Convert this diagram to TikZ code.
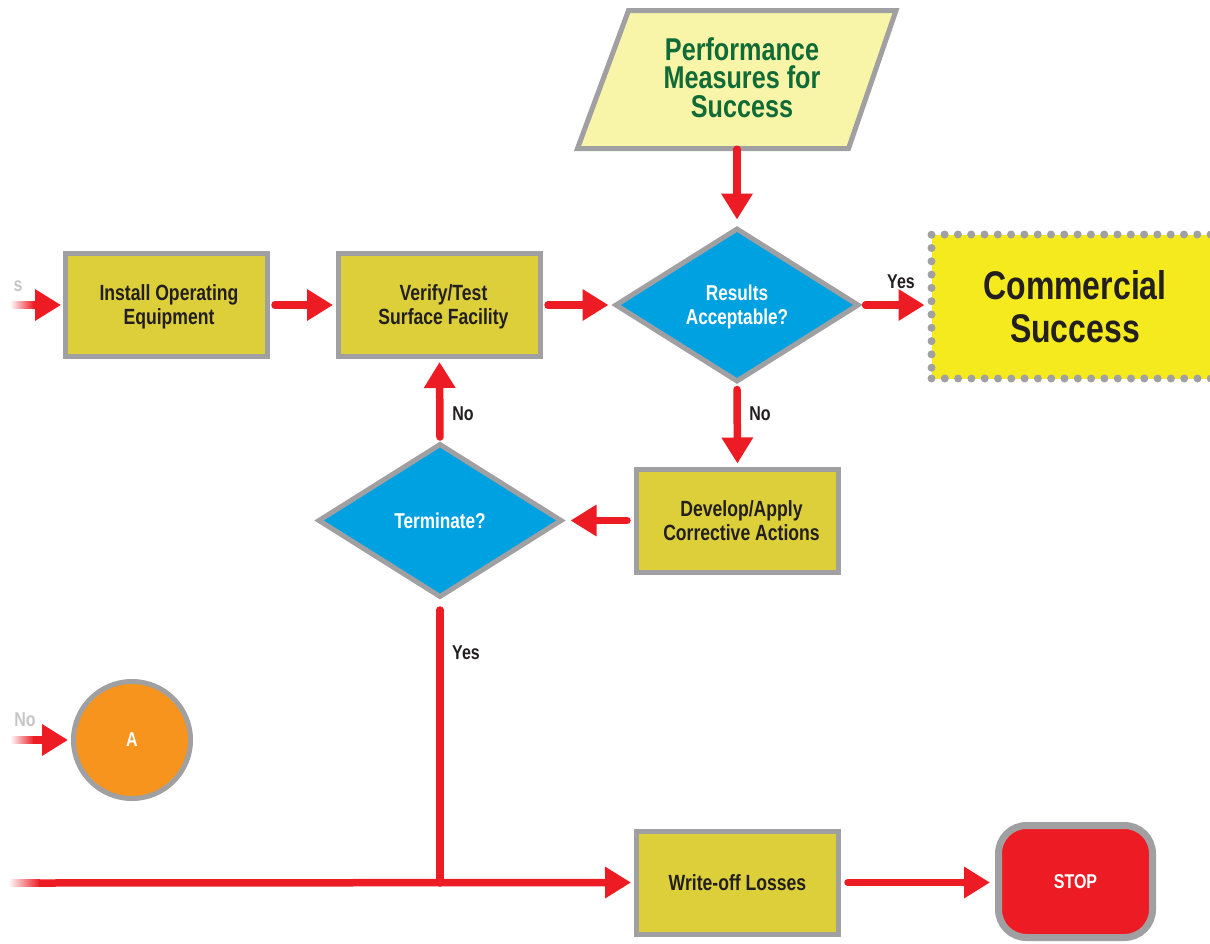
\documentclass[tikz,border=0pt]{standalone}
\usepackage{fontspec}
\setmainfont{Liberation Sans}[FakeStretch=0.8]
\usetikzlibrary{arrows.meta,shapes.geometric}
\definecolor{myred}{RGB}{237,28,36}
\definecolor{bgray}{RGB}{160,160,162}
\definecolor{boxfill}{RGB}{220,207,58}
\definecolor{dblue}{RGB}{0,161,224}
\definecolor{pfill}{RGB}{248,245,168}
\definecolor{pgreen}{RGB}{16,107,55}
\definecolor{cyellow}{RGB}{244,234,30}
\definecolor{aorange}{RGB}{247,148,29}
\definecolor{txt}{RGB}{35,31,32}
\newcommand\bxfont{\bfseries\fontsize{22}{24}\selectfont}
\newcommand\dfont{\bfseries\fontsize{21.5}{24}\selectfont}
\newcommand\sfont{\bfseries\fontsize{20}{24}\selectfont}
\tikzset{
  stepbox/.style={draw=bgray, line width=5pt, fill=boxfill, minimum width=202pt, minimum height=103pt, align=center, font=\bxfont, text=txt, inner sep=0pt, text depth=0pt},
  decide/.style={diamond, draw=bgray, line width=5pt, fill=dblue, minimum width=244pt, minimum height=154pt, aspect=1.6, align=center, font=\dfont, text=white, inner sep=0pt, text depth=0pt},
  arr/.style={draw=myred, line width=7.5pt, line cap=round, -{Triangle[length=26pt,width=30pt]}},
  farr/.style={draw=myred, line width=7.5pt, line cap=butt, -{Triangle[length=26pt,width=30pt]}},
  lbl/.style={font=\sfont, text=txt, inner sep=0pt},
  faded/.style={font=\sfont, text=gray!45, inner sep=0pt},
}
\begin{document}
\begin{tikzpicture}[x=1pt,y=-1pt]
\clip (0,0) rectangle (1210,943);
\fill[white] (0,0) rectangle (1210,943);

% parallelogram
\draw[draw=bgray, line width=5pt, fill=pfill, line join=miter] (628.5,10.5) -- (896,10.5) -- (848.5,148.5) -- (577.5,148.5) -- cycle;
\node[font=\bfseries\fontsize{31.5}{28.5}\selectfont, text=pgreen, align=center, minimum height=141pt, inner sep=0pt] (perf) at (742,77.5) {Performance\\Measures for\\Success};

% nodes
\node[stepbox] (install) at (166.5,305) {\hspace*{5pt}Install Operating\\\hspace*{5pt}Equipment};
\node[stepbox] (verify) at (439.5,305) {\hspace*{8pt}Verify/Test\\\hspace*{8pt}Surface Facility};
\node[decide] (results) at (737,305) {Results\\Acceptable?};
\node[draw=bgray, line width=8pt, dash pattern=on 0pt off 13.3pt, line cap=round, fill=cyellow, minimum width=287pt, minimum height=144pt, align=center, font=\bfseries\fontsize{40}{43}\selectfont, text=txt, inner sep=0pt] (comm) at (1075,306.5) {Commercial\\Success};
\node[stepbox] (develop) at (737.5,520.5) {\hspace*{8pt}Develop/Apply\\\hspace*{8pt}Corrective Actions};
\node[decide] (term) at (440,520.5) {Terminate?};
\node[circle, draw=bgray, line width=5pt, fill=aorange, minimum size=117pt, font=\sfont, text=white, inner sep=0pt] (A) at (132,740) {A};
\node[stepbox] (writeoff) at (737.5,882.5) {Write-off Losses};
\node[draw=bgray, line width=7pt, fill=myred, rounded corners=28pt, minimum width=154pt, minimum height=112pt, font=\sfont, text=white, inner sep=0pt] (stop) at (1075.5,881.5) {STOP};

% faded entries
\node[faded] (fs) at (18,286) {s};
\node[faded] (fno) at (25,720) {No};
\shade[left color=white, right color=myred] (10,301.25) rectangle (34,308.75);
\shade[left color=white, right color=myred] (10,736.25) rectangle (34,743.75);
\shade[left color=white, right color=myred] (8,879.25) rectangle (40,886.75);
\coordinate (inA) at (33,305);
\coordinate (inB) at (33,740);
\coordinate (inC) at (39,883);
\coordinate (junc) at (440,883);

% connectors
\draw[farr, shorten >=2pt] (inA) -- (install.west);
\draw[farr, shorten >=3pt] (inB) -- (A.west);
\draw[arr, shorten <=5pt, shorten >=3pt] (install.east) -- (verify.west);
\draw[arr, shorten <=5pt, shorten >=4pt] (verify.east) -- (results.west);
\draw[arr, shorten <=1pt, shorten >=6pt] (results.north |- perf.south) -- (results.north);
\draw[arr, shorten <=4pt, shorten >=3pt] (results.east) -- (results.east -| comm.west);
\draw[arr, shorten <=5pt, shorten >=3pt] (results.south) -- (develop.north);
\draw[arr, shorten <=7pt, shorten >=6pt] (develop.west) -- (term.east);
\draw[arr, shorten <=4pt, shorten >=3pt] (term.north) -- (verify.south);
\draw[draw=myred, line width=7.5pt, line cap=round, shorten <=10pt] (term.south) -- (junc);
\draw[farr, shorten >=3pt] (inC) -- (writeoff.west);
\draw[arr, shorten <=7pt, shorten >=5pt] (writeoff.east) -- (writeoff.east -| stop.west);

% labels
\node[lbl] (y1) at (901,282) {Yes};
\node[lbl] (n1) at (760,414) {No};
\node[lbl] (n2) at (463,414) {No};
\node[lbl] (y2) at (466,653) {Yes};
\end{tikzpicture}
\end{document}
